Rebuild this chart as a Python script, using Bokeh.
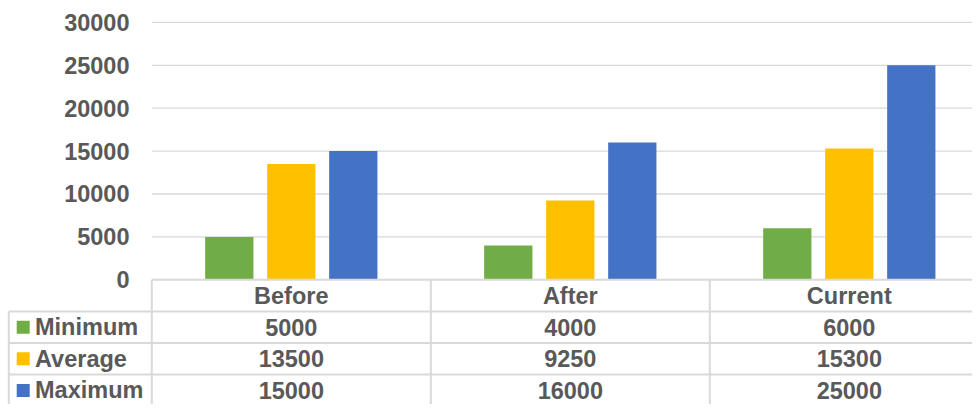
from bokeh.plotting import figure
from bokeh.models import Range1d
from bokeh.core.properties import value
from bokeh.embed import file_html
from bokeh.resources import INLINE

# ---------------- data ----------------
categories = ["Before", "After", "Current"]
series = ["Minimum", "Average", "Maximum"]
minimum = [5000, 4000, 6000]
average = [13500, 9250, 15300]
maximum = [15000, 16000, 25000]
y_ticks = [0, 5000, 10000, 15000, 20000, 25000, 30000]
colors = ["#70AD47", "#FFC000", "#4472C4"]

values = [minimum, average, maximum]

FONT = value("Liberation Sans")
TXT = "#595959"
FS = "23.5px"
GRID = "#D9D9D9"

# x in category units (one category = one unit), y in values
p = figure(width=972, height=404, output_backend="svg", toolbar_location=None,
           x_range=Range1d(-0.54229, 2.94158), y_range=Range1d(-14534, 32552),
           x_axis_location=None, y_axis_location=None, min_border=0,
           outline_line_color=None, background_fill_color="white",
           border_fill_color="white")
p.grid.visible = False
# table rows: row 0 = header, rows 1..3 = series
p.extra_y_ranges = {"table": Range1d(start=3.946, end=-8.839)}

n_cat = len(categories)
label_col = -0.5125

# gridlines (above 0, the 0 line is the table top)
gt = [t for t in y_ticks if t > 0]
p.segment(x0=[0] * len(gt), x1=[n_cat] * len(gt), y0=gt, y1=gt,
          line_color=GRID, line_width=1.3)

# y tick labels
p.text(x=[-0.0799] * len(y_ticks), y=y_ticks, text=[str(t) for t in y_ticks],
       text_align="right", text_baseline="middle", text_font=FONT,
       text_font_size=FS, text_font_style="bold", text_color=TXT)

# bars
bar_w = 0.173
pitch = 0.2222
for k, (vals, col) in enumerate(zip(values, colors)):
    xs = [i + 0.5 + (k - 1) * pitch for i in range(n_cat)]
    p.vbar(x=xs, top=vals, bottom=0, width=bar_w, fill_color=col,
           line_color=None)

# ---------------- data table ----------------
n_rows = len(series)
# horizontal lines
hx0 = [0] + [label_col] * (n_rows + 1)
hx1 = [n_cat] * (n_rows + 2)
hy = list(range(0, n_rows + 2))
p.segment(x0=hx0, x1=hx1, y0=hy, y1=hy, y_range_name="table",
          line_color=GRID, line_width=2)
# vertical lines
vx = [label_col] + list(range(0, n_cat + 1))
vy0 = [1] + [0] * (n_cat + 1)
vy1 = [n_rows + 1] * (n_cat + 2)
p.segment(x0=vx, x1=vx, y0=vy0, y1=vy1, y_range_name="table",
          line_color=GRID, line_width=2)

# header
p.text(x=[i + 0.5 for i in range(n_cat)], y=[0.5] * n_cat, text=categories,
       y_range_name="table", text_align="center", text_baseline="middle",
       text_font=FONT, text_font_size=FS, text_font_style="bold",
       text_color=TXT)

# rows
for r, (name, vals, col) in enumerate(zip(series, values, colors)):
    yr = r + 1.5
    p.rect(x=[-0.4609], y=[yr], width=13, height=13, width_units="screen",
           height_units="screen", fill_color=col, line_color=None,
           y_range_name="table")
    p.text(x=[-0.4186], y=[yr], text=[name], y_range_name="table",
           text_align="left", text_baseline="middle", text_font=FONT,
           text_font_size=FS, text_font_style="bold", text_color=TXT)
    p.text(x=[i + 0.5 for i in range(n_cat)], y=[yr] * n_cat,
           text=[str(v) for v in vals], y_range_name="table",
           text_align="center", text_baseline="middle", text_font=FONT,
           text_font_size=FS, text_font_style="bold", text_color=TXT)

open("out.html", "w").write(file_html(p, INLINE))
